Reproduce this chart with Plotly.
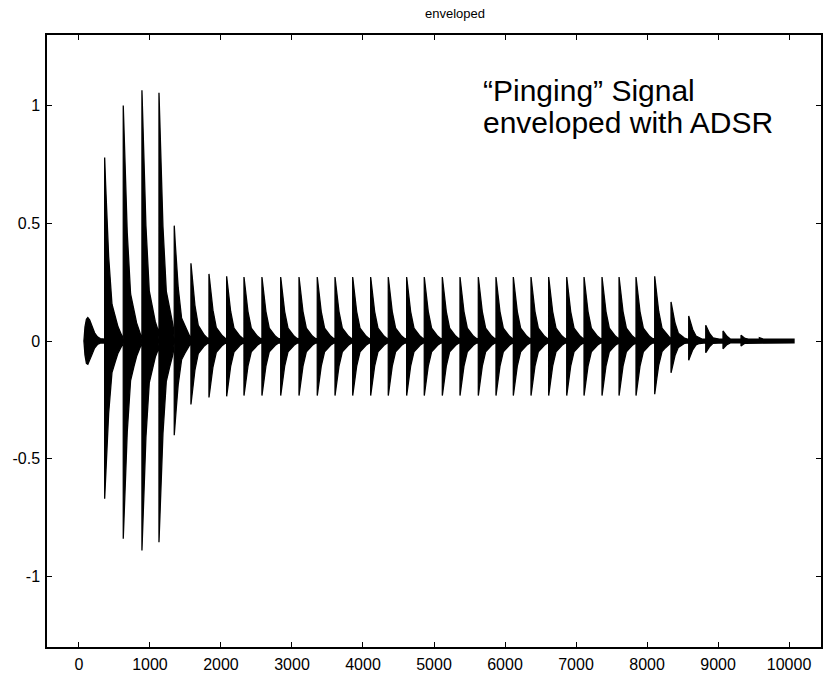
import plotly.graph_objects as go

# ---- data ----
# ping onsets (sample index) and envelope peaks (positive / negative)
ping_onsets = [362, 624, 887, 1127, 1342, 1577, 1831, 2080, 2324, 2577, 2841, 3099,
               3356, 3606, 3855, 4108, 4356, 4615, 4863, 5117, 5366, 5624, 5873, 6117,
               6366, 6615, 6869, 7113, 7366, 7606, 7845, 8108, 8338, 8587, 8827, 9070,
               9324, 9582, 9831]
ping_pos = [0.78, 1.00, 1.065, 1.055, 0.49, 0.33, 0.285, 0.275, 0.272, 0.272, 0.272, 0.272,
            0.272, 0.272, 0.272, 0.272, 0.272, 0.272, 0.272, 0.272, 0.272, 0.272, 0.272, 0.272,
            0.272, 0.272, 0.272, 0.272, 0.272, 0.272, 0.272, 0.275, 0.166, 0.106, 0.067, 0.043,
            0.024, 0.014, 0.009]
ping_neg = [-0.67, -0.84, -0.89, -0.855, -0.40, -0.27, -0.24, -0.235, -0.232, -0.232, -0.232, -0.232,
            -0.232, -0.232, -0.232, -0.232, -0.232, -0.232, -0.232, -0.232, -0.232, -0.232, -0.232, -0.232,
            -0.232, -0.232, -0.232, -0.232, -0.232, -0.232, -0.232, -0.226, -0.135, -0.082, -0.05, -0.033,
            -0.021, -0.011, -0.009]
# decay profile of one ping (offset in samples, fraction of peak)
decay_offsets = [0, 14, 28, 56, 103, 150, 188, 230]
decay_fracs = [1.0, 0.85, 0.72, 0.46, 0.2, 0.13, 0.077, 0.04]
# first (attack) hump
hump_x = [70, 85, 105, 125, 150, 180, 220, 260, 300]
hump_top = [0.0, 0.06, 0.092, 0.1, 0.09, 0.065, 0.035, 0.018, 0.01]
hump_bot = [0.0, -0.06, -0.095, -0.099, -0.085, -0.06, -0.03, -0.015, -0.009]
band = 0.008          # residual oscillation between pings
signal_end = 10070

x_ticks = [0, 1000, 2000, 3000, 4000, 5000, 6000, 7000, 8000, 9000, 10000]
y_ticks = [-1, -0.5, 0, 0.5, 1]
y_ticktext = ["-1", "-0.5", "0", "0.5", "1"]

title_text = "enveloped"
note_line1 = "\u201cPinging\u201d Signal"
note_line2 = "enveloped with ADSR"

FONT = "Arial, Liberation Sans, sans-serif"


def envelope(amps, hump, sign):
    xs = list(hump_x)
    ys = list(hump)
    for i, (o, a) in enumerate(zip(ping_onsets, amps)):
        nxt = ping_onsets[i + 1] if i + 1 < len(ping_onsets) else signal_end
        xs += [o, o]
        ys += [sign * band, a]
        for off, f in zip(decay_offsets[1:], decay_fracs[1:]):
            if o + off < nxt - 5:
                v = a * f
                if abs(v) < band:
                    v = sign * band
                xs.append(o + off)
                ys.append(v)
    xs.append(signal_end)
    ys.append(sign * band)
    return xs, ys


ux, uy = envelope(ping_pos, hump_top, 1)
lx, ly = envelope(ping_neg, hump_bot, -1)
px = ux + lx[::-1]
py = uy + ly[::-1]

fig = go.Figure()
fig.add_trace(go.Scatter(x=px, y=py, mode="lines", fill="toself",
                         fillcolor="black", line=dict(color="black", width=1.3),
                         hoverinfo="skip", showlegend=False))

axis_common = dict(showline=True, linecolor="black", linewidth=1.5, mirror="ticks",
                   ticks="inside", ticklen=5, tickwidth=1.2, tickcolor="black",
                   showgrid=False, zeroline=False, automargin=False,
                   tickfont=dict(family=FONT, size=16, color="black"))

fig.update_xaxes(range=[-450, 10450], tickvals=x_ticks,
                 ticktext=[str(v) for v in x_ticks], ticklabelstandoff=2, **axis_common)
fig.update_yaxes(range=[-1.3, 1.3], tickvals=y_ticks, ticktext=y_ticktext,
                 ticklabelstandoff=2, **axis_common)

L, T, W, H = 47, 35, 774, 612
fig.add_annotation(text=title_text, xref="paper", yref="paper",
                   x=(455 - L) / W, y=1 + (T - 14) / H,
                   xanchor="center", yanchor="middle", showarrow=False,
                   font=dict(family=FONT, size=13, color="black"))
fig.add_annotation(text=note_line1, xref="paper", yref="paper",
                   x=(481 - L) / W, y=1 - (90 - T) / H,
                   xanchor="left", yanchor="middle", showarrow=False,
                   font=dict(family=FONT, size=30, color="black"))
fig.add_annotation(text=note_line2, xref="paper", yref="paper",
                   x=(481 - L) / W, y=1 - (123 - T) / H,
                   xanchor="left", yanchor="middle", showarrow=False,
                   font=dict(family=FONT, size=30, color="black"))

fig.update_layout(width=825, height=674, paper_bgcolor="white", plot_bgcolor="white",
                  margin=dict(l=L, r=825 - L - W, t=T, b=674 - T - H, autoexpand=False),
                  showlegend=False)

fig.write_html("out.html", config={"displayModeBar": False},
               post_script="document.body.style.margin='0';document.body.style.padding='0';"
                           "document.body.style.overflow='hidden';")
